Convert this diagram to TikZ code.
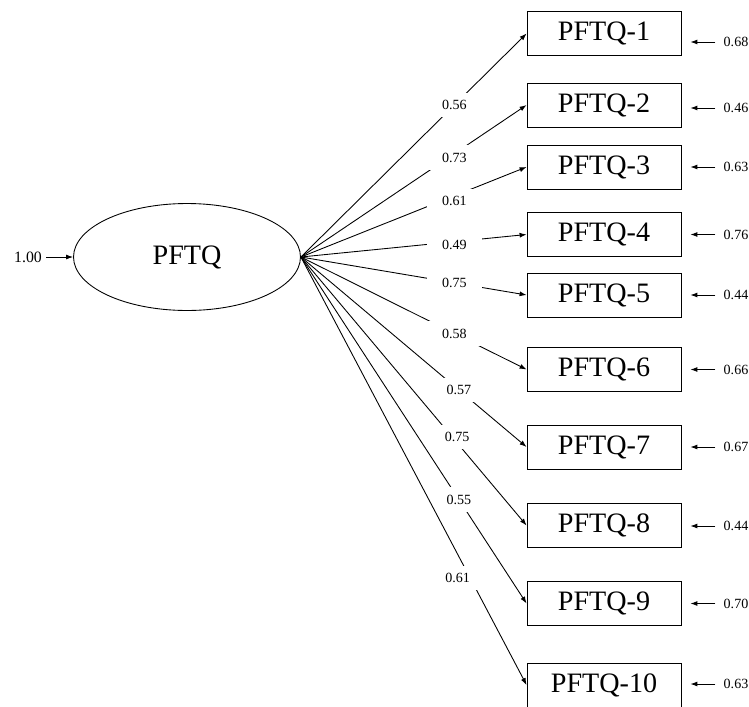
\documentclass[tikz,border=0pt]{standalone}
\usepackage{fontspec}
\setmainfont{Liberation Serif}
\usetikzlibrary{arrows.meta,shapes.geometric}

\begin{document}
\begin{tikzpicture}[x=0.02cm,y=-0.02cm,line width=.5pt,>={Latex[length=1.4mm,width=1mm]},
  latent/.style={ellipse,draw,minimum width=4.54cm,minimum height=2.14cm,inner sep=0,font=\fontsize{16}{16}\selectfont},
  item/.style={rectangle,draw,minimum width=3.08cm,minimum height=.88cm,inner sep=0,font=\fontsize{16}{16}\selectfont},
  err/.style={inner xsep=.16cm,inner ysep=0,font=\fontsize{8}{8}\selectfont},
  coef/.style={fill=white,inner xsep=.3cm,inner ysep=.15cm,font=\fontsize{8}{8}\selectfont,pos=.68}]

\useasboundingbox (0,0) rectangle (749,706);

% Nodes
\node[latent] (pftq) at (187,257) {PFTQ};
\node[inner xsep=.08cm,inner ysep=0,font=\fontsize{9}{9}\selectfont] (v0) at (28,257) {1.00};

\node[item] (q1) at (604,33.5) {PFTQ-1};
\node[item] (q2) at (604,105) {PFTQ-2};
\node[item] (q3) at (604,167) {PFTQ-3};
\node[item] (q4) at (604,234.5) {PFTQ-4};
\node[item] (q5) at (604,295) {PFTQ-5};
\node[item] (q6) at (604,369.5) {PFTQ-6};
\node[item] (q7) at (604,447) {PFTQ-7};
\node[item] (q8) at (604,525.5) {PFTQ-8};
\node[item] (q9) at (604,603.5) {PFTQ-9};
\node[item] (q10) at (604,685) {PFTQ-10};

\node[err] (e1) at (736,42) {0.68};
\node[err] (e2) at (736,108) {0.46};
\node[err] (e3) at (736,167) {0.63};
\node[err] (e4) at (736,234.5) {0.76};
\node[err] (e5) at (736,295) {0.44};
\node[err] (e6) at (736,369.5) {0.66};
\node[err] (e7) at (736,447) {0.67};
\node[err] (e8) at (736,526) {0.44};
\node[err] (e9) at (736,603.5) {0.70};
\node[err] (e10) at (736,684) {0.63};

%arcs
\path (v0) edge[->] (pftq);

\path (pftq.east) edge[->] node[coef] {0.56} (q1.west);
\path (pftq.east) edge[->] node[coef,yshift=-.08cm] {0.73} (q2.west);
\path (pftq.east) edge[->] node[coef,yshift=-.1cm] {0.61} (q3.west);
\path (pftq.east) edge[->] node[coef,yshift=-.06cm] {0.49} (q4.west);
\path (pftq.east) edge[->] node[coef] {0.75} (q5.west);
\path (pftq.east) edge[->] node[coef] {0.58} (q6.west);
\path (pftq.east) edge[->] node[coef,pos=.7] {0.57} (q7.west);
\path (pftq.east) edge[->] node[coef,pos=.67,xshift=.1cm] {0.75} (q8.west);
\path (pftq.east) edge[->] node[coef,pos=.7] {0.55} (q9.west);
\path (pftq.east) edge[->] node[coef,pos=.75,xshift=-.25cm] {0.61} (q10.west);

\path (e1) edge[->,shorten >=.18cm] (e1 -| q1.east);
\path (e2) edge[->,shorten >=.18cm] (e2 -| q2.east);
\path (e3) edge[->,shorten >=.18cm] (e3 -| q3.east);
\path (e4) edge[->,shorten >=.18cm] (e4 -| q4.east);
\path (e5) edge[->,shorten >=.18cm] (e5 -| q5.east);
\path (e6) edge[->,shorten >=.18cm] (e6 -| q6.east);
\path (e7) edge[->,shorten >=.18cm] (e7 -| q7.east);
\path (e8) edge[->,shorten >=.18cm] (e8 -| q8.east);
\path (e9) edge[->,shorten >=.18cm] (e9 -| q9.east);
\path (e10) edge[->,shorten >=.18cm] (e10 -| q10.east);

\end{tikzpicture}
\end{document}
